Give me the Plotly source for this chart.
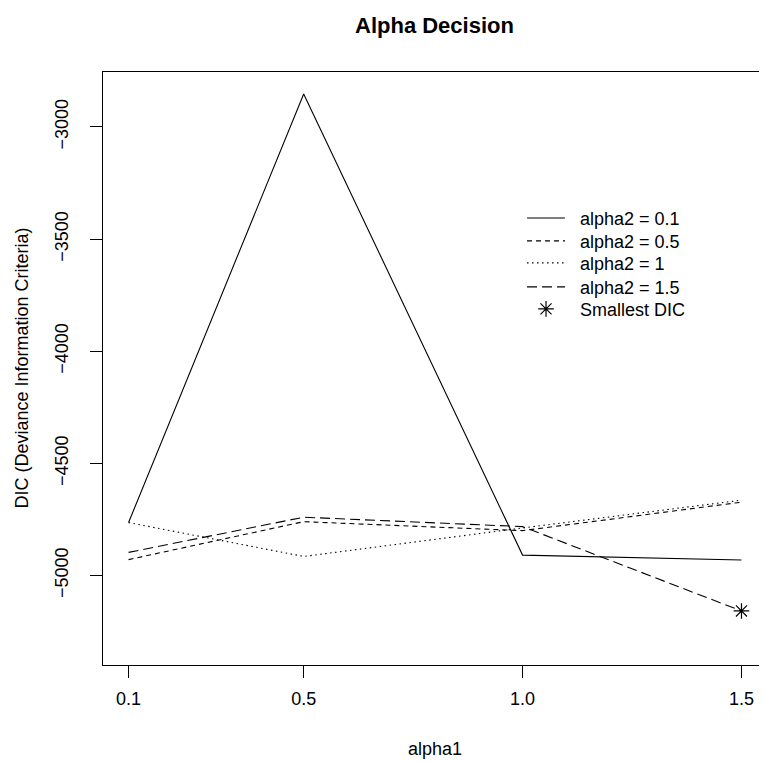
import plotly.graph_objects as go

alpha1 = [0.1, 0.5, 1.0, 1.5]
dic_a2_01 = [-4764, -2853, -4909, -4931]
dic_a2_05 = [-4929, -4760, -4800, -4673]
dic_a2_1 = [-4764, -4915, -4788, -4664]
dic_a2_15 = [-4897, -4740, -4782, -5158]
series_names = ["alpha2 = 0.1", "alpha2 = 0.5", "alpha2 = 1", "alpha2 = 1.5"]
best_name = "Smallest DIC"
best_x = [1.5]
best_y = [-5158]
x_ticks = [0.1, 0.5, 1.0, 1.5]
x_ticklabels = ["0.1", "0.5", "1.0", "1.5"]
y_ticks = [-5000, -4500, -4000, -3500, -3000]

FONT = "Liberation Sans, Arial, Helvetica, sans-serif"
dashes = ["solid", "5px,4px", "1.5px,3.5px", "10px,5px"]
PAD = "\u00a0\u00a0"  # small gap between legend sample and label, as in the reference

# page has an 8px body margin; figure is sized to fit the window
W, H = 759, 753
PLOT_H = 593.3
legend_rows = [218, 241, 263, 287, 309]  # row centres (window px)
legend_ids = ["legend", "legend2", "legend3", "legend4", "legend5"]

fig = go.Figure()
for ys, name, dash, lid in zip([dic_a2_01, dic_a2_05, dic_a2_1, dic_a2_15],
                               series_names, dashes, legend_ids):
    fig.add_trace(go.Scatter(x=alpha1, y=ys, mode="lines", name=PAD + name, legend=lid,
                             line=dict(color="black", width=1.1, dash=dash)))
fig.add_trace(go.Scatter(x=best_x, y=best_y, mode="markers", name=PAD + best_name,
                         legend="legend5",
                         marker=dict(symbol="asterisk-open", size=13, color="black",
                                     line=dict(color="black", width=1.2))))

leg_common = dict(xanchor="left", yanchor="middle", bgcolor="rgba(0,0,0,0)",
                  borderwidth=0, font=dict(size=18, family=FONT), itemwidth=38)
legends = {}
for lid, row in zip(legend_ids, legend_rows):
    legends[lid] = dict(x=0.632, y=(665 - row) / PLOT_H, **leg_common)

fig.update_layout(
    width=W, height=H,
    margin=dict(l=95, r=1, t=64, b=96),
    paper_bgcolor="white", plot_bgcolor="white",
    font=dict(family=FONT, size=18, color="black"),
    showlegend=True,
    xaxis=dict(range=[0.0416, 1.556], tickvals=x_ticks, ticktext=x_ticklabels,
               showgrid=False, zeroline=False, showline=True, mirror=True,
               linecolor="black", linewidth=1, ticks="outside", ticklen=12,
               tickcolor="black", tickwidth=1, ticklabelstandoff=5),
    yaxis=dict(range=[-5399, -2755], tickvals=y_ticks,
               showgrid=False, zeroline=False, showline=True, mirror=True,
               linecolor="black", linewidth=1, ticks="outside", ticklen=12,
               tickcolor="black", tickwidth=1, tickangle=-90, ticklabelstandoff=15,
               tickformat="d"),
    annotations=[
        dict(text="<b>Alpha Decision</b>", xref="paper", yref="paper",
             x=0.5, y=1 + (71.7 - 25) / PLOT_H, xanchor="center", yanchor="middle",
             showarrow=False, font=dict(size=22, family=FONT)),
        dict(text="alpha1", xref="paper", yref="paper",
             x=0.5, y=-(749 - 665) / PLOT_H, xanchor="center", yanchor="middle",
             showarrow=False, font=dict(size=18, family=FONT)),
        dict(text="DIC (Deviance Information Criteria)", xref="paper", yref="paper",
             x=-(103 - 21) / 663, y=0.5, xanchor="center", yanchor="middle",
             textangle=-90, showarrow=False, font=dict(size=18, family=FONT)),
    ],
    **legends,
)

fig.write_html("out.html")
